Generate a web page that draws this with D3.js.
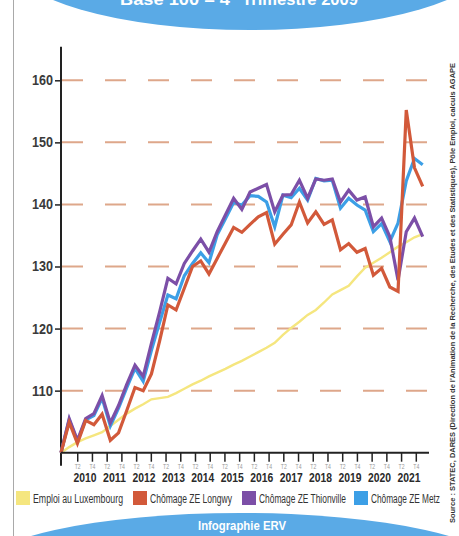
<!DOCTYPE html>
<html>
<head>
<meta charset="utf-8">
<script src="https://cdn.jsdelivr.net/npm/d3@7"></script>
<style>
  body { margin: 0; background: #fff; }
  svg { display: block; }
</style>
</head>
<body>
<script>
// canvas
var w = 459;
var h = 536;

// chart values, quarterly, base 100 = 4e trimestre 2009
var emploiLux = [100, 100.9, 101.7, 102.3, 102.8, 103.3, 104.3, 105.3, 106.3, 107.1,
  107.8, 108.6, 108.8, 109.0, 109.6, 110.3, 111.0, 111.6, 112.3, 112.9,
  113.5, 114.2, 114.8, 115.5, 116.2, 116.9, 117.7, 119.0, 120.1, 121.1,
  122.2, 123.0, 124.2, 125.5, 126.2, 126.9, 128.4, 129.8, 130.6, 131.4,
  132.3, 133.2, 133.9, 134.7, 135.2];
var chomLongwy = [100, 104.9, 101.5, 105.2, 104.5, 106.2, 102.0, 103.2, 106.8, 110.5,
  110.0, 112.7, 118.0, 123.8, 123.0, 126.5, 130.0, 130.9, 128.8, 131.3,
  133.8, 136.3, 135.5, 136.8, 138.0, 138.7, 133.6, 135.2, 136.7, 140.4,
  137.0, 138.8, 136.8, 137.5, 132.7, 133.7, 132.3, 132.9, 128.6, 129.7,
  126.7, 126.0, 155.2, 145.9, 142.9];
var chomThionville = [100, 105.5, 102.0, 105.5, 106.3, 109.2, 104.8, 107.6, 111.0, 114.1,
  112.3, 117.6, 122.7, 128.1, 127.2, 130.5, 132.5, 134.4, 132.3, 135.6,
  138.3, 141.0, 139.2, 142.0, 142.6, 143.2, 138.8, 141.5, 141.6, 143.9,
  141.0, 144.1, 143.9, 144.1, 140.4, 142.3, 140.7, 141.2, 136.4, 137.8,
  134.8, 127.8, 135.6, 137.8, 134.8];
var chomMetz = [100, 105.3, 101.8, 105.3, 106.0, 108.8, 104.3, 107.2, 110.5, 113.6,
  111.5, 116.5, 121.0, 125.4, 124.8, 128.5, 130.5, 132.2, 130.6, 135.1,
  137.7, 140.3, 139.9, 141.4, 141.3, 140.4, 136.4, 141.5, 141.1, 142.6,
  140.7, 144.2, 143.8, 143.9, 139.4, 141.0, 139.9, 139.1, 135.6, 136.9,
  134.0, 137.0, 143.8, 147.4, 146.4];

var seriesNames = ["Emploi au Luxembourg", "Chômage ZE Longwy", "Chômage ZE Thionville", "Chômage ZE Metz"];
var seriesColors = ["#f5e67f", "#d2593a", "#7c4fa7", "#3c9fe6"];
var yTicks = [110, 120, 130, 140, 150, 160];
var years = [2010, 2011, 2012, 2013, 2014, 2015, 2016, 2017, 2018, 2019, 2020, 2021];
var halfLabels = ["T2", "T4"];
var titleText = "Base 100 = 4";
var titleSup = "e";
var titleEnd = "Trimestre 2009";
var sourceText = "Source : STATEC, DARES (Direction de l'Animation de la Recherche, des Etudes et des Statistiques), Pôle Emploi, calculs AGAPE";
var creditText = "Infographie ERV";

var font = "'Liberation Sans Narrow', 'Liberation Sans', sans-serif";

// squeeze a text into the width it has in the print
function fit(sel, len) {
  sel.attr("textLength", len).attr("lengthAdjust", "spacingAndGlyphs");
}

var svg = d3.select("body").append("svg")
    .attr("width", w)
    .attr("height", h);

svg.append("rect").attr("width", w).attr("height", h).attr("fill", "#fff");

// page border on the left
svg.append("line")
    .attr("x1", 13.5).attr("x2", 13.5)
    .attr("y1", 0).attr("y2", h)
    .attr("stroke", "#a9a9a9").attr("stroke-width", 1);

// top banner
svg.append("ellipse")
    .attr("cx", 250).attr("cy", -40)
    .attr("rx", 240).attr("ry", 70)
    .attr("fill", "#5aaae6");
var title = svg.append("g")
    .attr("font-family", font)
    .attr("font-weight", "bold")
    .attr("fill", "#fff");
title.append("text").attr("x", 120).attr("y", 4.5).attr("font-size", 17)
    .text(titleText).call(fit, 110);
title.append("text").attr("x", 231).attr("y", -3).attr("font-size", 10)
    .text(titleSup);
title.append("text").attr("x", 242).attr("y", 4.5).attr("font-size", 17)
    .text(titleEnd).call(fit, 116);

// bottom banner
svg.append("ellipse")
    .attr("cx", 240).attr("cy", 571)
    .attr("rx", 262).attr("ry", 58)
    .attr("fill", "#5aaae6");
svg.append("text")
    .attr("x", 198).attr("y", 530)
    .attr("font-family", font)
    .attr("font-weight", "bold")
    .attr("font-size", 12.5)
    .attr("fill", "#fff")
    .text(creditText)
    .call(fit, 88);

// scales
var x = d3.scaleLinear().domain([0, emploiLux.length - 1]).range([61, 422.7]);
var y = d3.scaleLinear().domain([100, 160]).range([452.7, 80.3]);
// the time axis is drawn on its own quarter grid (q = 0 is T4 2009)
var xq = d3.scaleLinear().domain([0, 48]).range([63, 416.3]);

// dashed gridlines
svg.append("g")
  .selectAll("line")
  .data(yTicks)
  .enter().append("line")
    .attr("x1", 62).attr("x2", 428)
    .attr("y1", function(d) { return y(d); })
    .attr("y2", function(d) { return y(d); })
    .attr("stroke", "#dea78a")
    .attr("stroke-width", 2)
    .attr("stroke-dasharray", "21,22");

// y axis
var yAxis = svg.append("g")
    .attr("transform", "translate(61,0)")
    .call(d3.axisLeft(y).tickValues(yTicks).tickSize(6).tickPadding(2));
yAxis.select(".domain").remove();
yAxis.selectAll(".tick line").attr("stroke", "#222").attr("stroke-width", 1.5);
yAxis.selectAll(".tick text")
    .attr("font-family", font)
    .attr("font-weight", "bold")
    .attr("font-size", 14)
    .attr("fill", "#3a3a3a")
    .call(fit, 21);
svg.append("line")
    .attr("x1", 61).attr("x2", 61)
    .attr("y1", y(165.4)).attr("y2", y(97.9))
    .attr("stroke", "#222").attr("stroke-width", 2);

// lines
var line = d3.line()
    .x(function(d, i) { return x(i); })
    .y(function(d) { return y(d); });

var allSeries = [emploiLux, chomMetz, chomThionville, chomLongwy];
var drawColors = [seriesColors[0], seriesColors[3], seriesColors[2], seriesColors[1]];
var drawWidths = [2.4, 3.2, 3.2, 3.2];

svg.append("g")
  .selectAll("path")
  .data(allSeries)
  .enter().append("path")
    .attr("d", line)
    .attr("fill", "none")
    .attr("stroke", function(d, i) { return drawColors[i]; })
    .attr("stroke-width", function(d, i) { return drawWidths[i]; })
    .attr("stroke-linejoin", "miter");

// x axis
svg.append("line")
    .attr("x1", 61).attr("x2", 429)
    .attr("y1", y(100)).attr("y2", y(100))
    .attr("stroke", "#222").attr("stroke-width", 2);

var halfTicks = d3.range(2, 49, 2);
svg.append("g")
  .selectAll("line")
  .data(halfTicks)
  .enter().append("line")
    .attr("x1", function(d) { return xq(d); })
    .attr("x2", function(d) { return xq(d); })
    .attr("y1", y(100)).attr("y2", y(100) + 9)
    .attr("stroke", "#222").attr("stroke-width", 1.5);

svg.append("g")
  .selectAll("text")
  .data(halfTicks)
  .enter().append("text")
    .attr("x", function(d) { return xq(d) - 3; })
    .attr("y", 468.5)
    .attr("font-family", font)
    .attr("font-size", 6.5)
    .attr("fill", "#9a9a9a")
    .text(function(d) { return halfLabels[(d / 2 + 1) % 2]; })
    .call(fit, 6);

svg.append("g")
  .selectAll("text")
  .data(years)
  .enter().append("text")
    .attr("x", function(d, i) { return xq(i * 4 + 3) - 11.5; })
    .attr("y", 482)
    .attr("font-family", font)
    .attr("font-weight", "bold")
    .attr("font-size", 13)
    .attr("fill", "#2a2a2a")
    .text(function(d) { return d; })
    .call(fit, 23);

// legend
var legendX = [16, 133, 242, 354];
var legendLen = [90, 82, 87, 69];
var legend = svg.append("g")
  .selectAll("g")
  .data(seriesNames)
  .enter().append("g")
    .attr("transform", function(d, i) { return "translate(" + legendX[i] + ",491)"; });

legend.append("rect")
    .attr("width", 14).attr("height", 14)
    .attr("fill", function(d, i) { return seriesColors[i]; });

legend.append("text")
    .attr("x", 17).attr("y", 12)
    .attr("font-family", font)
    .attr("font-size", 12)
    .attr("fill", "#333")
    .attr("textLength", function(d, i) { return legendLen[i]; })
    .attr("lengthAdjust", "spacingAndGlyphs")
    .text(function(d) { return d; });

// source, rotated along the right edge
svg.append("text")
    .attr("transform", "translate(455,523) rotate(-90)")
    .attr("font-family", font)
    .attr("font-weight", "bold")
    .attr("font-size", 7.5)
    .attr("fill", "#333")
    .text(sourceText)
    .call(fit, 460);
</script>
</body>
</html>
